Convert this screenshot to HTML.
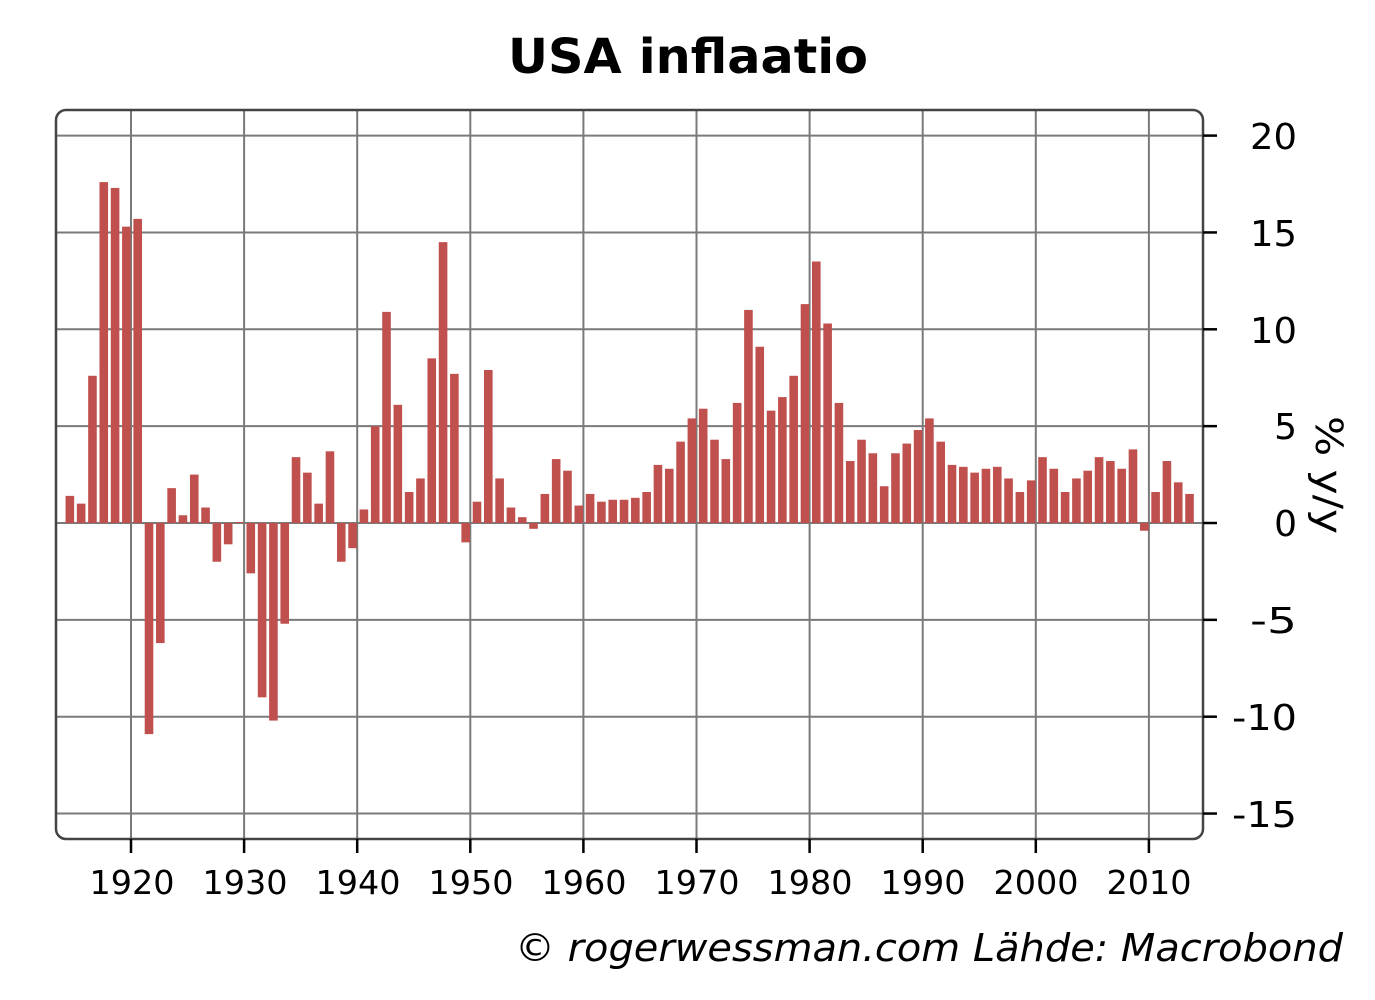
<!DOCTYPE html>
<html><head><meta charset="utf-8"><style>
html,body{margin:0;padding:0;background:#fff;}
svg{display:block;}
text{font-family:"DejaVu Sans","Liberation Sans",sans-serif;fill:#000;}
</style></head><body>
<svg id="s" width="1375" height="1000" viewBox="0 0 1375 1000">
<text x="688" y="73" text-anchor="middle" font-size="48" font-weight="bold" textLength="360" lengthAdjust="spacingAndGlyphs">USA inflaatio</text>
<g id="grid" stroke="#7a7a7a" stroke-width="2"></g>
<g id="bars" fill="#c0504d"></g>
<rect x="56" y="110" width="1147" height="729" rx="10" ry="10" fill="none" stroke="#444" stroke-width="2.5"/>
<g id="ticks" stroke="#000" stroke-width="2.5"></g>
<g font-size="36" text-anchor="end">
<text x="1297" y="149" textLength="47" lengthAdjust="spacingAndGlyphs">20</text>
<text x="1297" y="246" textLength="47" lengthAdjust="spacingAndGlyphs">15</text>
<text x="1297" y="343" textLength="47" lengthAdjust="spacingAndGlyphs">10</text>
<text x="1297" y="439">5</text>
<text x="1297" y="536">0</text>
<text x="1297" y="633" textLength="47" lengthAdjust="spacingAndGlyphs">-5</text>
<text x="1297" y="730" textLength="65" lengthAdjust="spacingAndGlyphs">-10</text>
<text x="1297" y="827" textLength="65" lengthAdjust="spacingAndGlyphs">-15</text>
</g>
<text transform="translate(1316,475) rotate(90)" text-anchor="middle" font-size="37" textLength="118" lengthAdjust="spacingAndGlyphs">% y/y</text>
<g font-size="33" text-anchor="middle">
<text x="132" y="894" textLength="85" lengthAdjust="spacingAndGlyphs">1920</text><text x="245" y="894" textLength="85" lengthAdjust="spacingAndGlyphs">1930</text><text x="358" y="894" textLength="85" lengthAdjust="spacingAndGlyphs">1940</text>
<text x="471" y="894" textLength="85" lengthAdjust="spacingAndGlyphs">1950</text><text x="584" y="894" textLength="85" lengthAdjust="spacingAndGlyphs">1960</text><text x="697" y="894" textLength="85" lengthAdjust="spacingAndGlyphs">1970</text>
<text x="810" y="894" textLength="85" lengthAdjust="spacingAndGlyphs">1980</text><text x="923" y="894" textLength="85" lengthAdjust="spacingAndGlyphs">1990</text><text x="1036" y="894" textLength="85" lengthAdjust="spacingAndGlyphs">2000</text>
<text x="1149" y="894" textLength="85" lengthAdjust="spacingAndGlyphs">2010</text>
</g>
<text x="1343" y="961" text-anchor="end" font-size="38" font-style="italic" textLength="828" lengthAdjust="spacingAndGlyphs">© rogerwessman.com Lähde: Macrobond</text>
</svg>
<script>
var v=[1.4,1.0,7.6,17.6,17.3,15.3,15.7,-10.9,-6.2,1.8,0.4,2.5,0.8,-2.0,-1.1,0.05,-2.6,-9.0,-10.2,-5.2,3.4,2.6,1.0,3.7,-2.0,-1.3,0.7,5.0,10.9,6.1,1.6,2.3,8.5,14.5,7.7,-1.0,1.1,7.9,2.3,0.8,0.3,-0.3,1.5,3.3,2.7,0.9,1.5,1.1,1.2,1.2,1.3,1.6,3.0,2.8,4.2,5.4,5.9,4.3,3.3,6.2,11.0,9.1,5.8,6.5,7.6,11.3,13.5,10.3,6.2,3.2,4.3,3.6,1.9,3.6,4.1,4.8,5.4,4.2,3.0,2.9,2.6,2.8,2.9,2.3,1.6,2.2,3.4,2.8,1.6,2.3,2.7,3.4,3.2,2.8,3.8,-0.4,1.6,3.2,2.1,1.5];
var NS="http://www.w3.org/2000/svg";
function el(p,t,a){var e=document.createElementNS(NS,t);for(var k in a)e.setAttribute(k,a[k]);document.getElementById(p).appendChild(e);}
var y0=523,u=19.37;
function tx(y){return 131+(y-1920)*11.31;}
for(var g=-15;g<=20;g+=5){var yy=y0-g*u;el("grid","line",{x1:56,x2:1203,y1:yy,y2:yy});el("ticks","line",{x1:1203,x2:1217,y1:yy,y2:yy});}
for(var d=1920;d<=2010;d+=10){var xx=tx(d);el("grid","line",{x1:xx,x2:xx,y1:110,y2:839});el("ticks","line",{x1:xx,x2:xx,y1:839,y2:853});}
for(var i=0;i<v.length;i++){var x=tx(1914+i)+2.4,h=v[i]*u;el("bars","rect",{x:x,width:8.6,y:h>0?y0-h:y0,height:Math.abs(h)});}
</script>
</body></html>
